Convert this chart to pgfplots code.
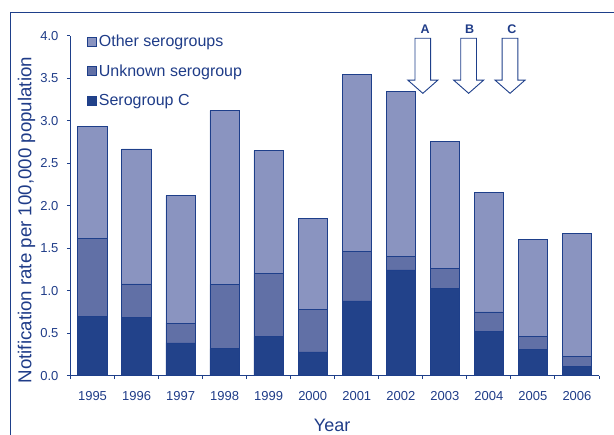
\documentclass[border=0pt]{standalone}
\usepackage{pgfplots}
\pgfplotsset{compat=1.18}
\usepackage{fontspec}
\setmainfont{Liberation Sans}
\definecolor{cC}{HTML}{22428A}
\definecolor{cU}{HTML}{6170A6}
\definecolor{cO}{HTML}{8A94C0}
\definecolor{edge}{HTML}{1E3F8A}
\definecolor{txt}{HTML}{1F3C88}
\begin{document}
\begin{tikzpicture}
\useasboundingbox (-70.5pt,-59.3pt) rectangle (543.5pt,375.7pt);
\draw[edge, line width=1.2pt] (-60pt,-62pt) -- (-60pt,363pt) -- (546pt,363pt);
\begin{axis}[
  scale only axis, width=528.5pt, height=339.7pt,
  ybar stacked, bar width=29.4pt,
  xmin=-0.5, xmax=11.5, ymin=0, ymax=4,
  axis x line*=bottom, axis y line*=left,
  axis line style={edge, line width=1pt},
  clip=false,
  tick align=outside, major tick length=3.5pt,
  every tick/.style={edge, line width=1pt},
  xtick={-0.5,0.5,...,11.5}, xticklabels={},
  extra x ticks={0,1,...,11},
  extra x tick labels={1995,1996,1997,1998,1999,2000,2001,2002,2003,2004,2005,2006},
  extra x tick style={major tick length=0pt, xticklabel style={yshift=-12pt}},
  ytick={0,0.5,...,4},
  yticklabel style={xshift=-5pt},
  y tick label style={/pgf/number format/.cd, fixed, fixed zerofill, precision=1},
  /pgf/number format/assume math mode=true,
  tick label style={font=\fontsize{13}{15}\selectfont, text=txt},
  ylabel={Notification rate per 100,000 population},
  ylabel style={at={(axis description cs:-0.083,0.458)}, anchor=center, font=\fontsize{18.7}{20}\selectfont, text=txt},
  xlabel={Year},
  xlabel style={at={(axis description cs:0.495,-0.145)}, anchor=center, font=\fontsize{18}{20}\selectfont, text=txt},
  legend style={at={(axis description cs:0.031,1.009)}, anchor=north west, draw=none, fill=none,
    font=\fontsize{16}{18}\selectfont, text=txt, row sep=12.5pt, inner sep=0pt,
    nodes={inner sep=2pt}},
  legend cell align=left,
  reverse legend,
  legend image code/.code={\draw[#1, line width=0.8pt] (0pt,-4.5pt) rectangle (9pt,4.5pt);},
]
\addplot[fill=cC, draw=edge, line width=0.8pt] coordinates {(0,0.70) (1,0.69) (2,0.385) (3,0.32) (4,0.46) (5,0.28) (6,0.88) (7,1.245) (8,1.03) (9,0.52) (10,0.31) (11,0.105)};
\addlegendentry{Serogroup C}
\addplot[fill=cU, draw=edge, line width=0.8pt] coordinates {(0,0.92) (1,0.39) (2,0.235) (3,0.75) (4,0.74) (5,0.505) (6,0.58) (7,0.155) (8,0.23) (9,0.23) (10,0.15) (11,0.12)};
\addlegendentry{Unknown serogroup}
\addplot[fill=cO, draw=edge, line width=0.8pt] coordinates {(0,1.31) (1,1.59) (2,1.50) (3,2.05) (4,1.45) (5,1.065) (6,2.09) (7,1.95) (8,1.50) (9,1.41) (10,1.14) (11,1.455)};
\addlegendentry{Other serogroups}
\draw[edge, fill=white, line width=0.9pt] (axis cs:7.322,3.973) -- (axis cs:7.678,3.973) -- (axis cs:7.678,3.48) -- (axis cs:7.84,3.48) -- (axis cs:7.5,3.325) -- (axis cs:7.16,3.48) -- (axis cs:7.322,3.48) -- cycle;
\draw[edge, fill=white, line width=0.9pt] (axis cs:8.362,3.973) -- (axis cs:8.718,3.973) -- (axis cs:8.718,3.48) -- (axis cs:8.88,3.48) -- (axis cs:8.54,3.325) -- (axis cs:8.2,3.48) -- (axis cs:8.362,3.48) -- cycle;
\draw[edge, fill=white, line width=0.9pt] (axis cs:9.302,3.973) -- (axis cs:9.658,3.973) -- (axis cs:9.658,3.48) -- (axis cs:9.82,3.48) -- (axis cs:9.48,3.325) -- (axis cs:9.14,3.48) -- (axis cs:9.302,3.48) -- cycle;
\node[text=txt, font=\bfseries\fontsize{12.5}{14}\selectfont] at (axis cs:7.55,4.08) {A};
\node[text=txt, font=\bfseries\fontsize{12.5}{14}\selectfont] at (axis cs:8.56,4.08) {B};
\node[text=txt, font=\bfseries\fontsize{12.5}{14}\selectfont] at (axis cs:9.52,4.08) {C};
\end{axis}
\end{tikzpicture}
\end{document}
